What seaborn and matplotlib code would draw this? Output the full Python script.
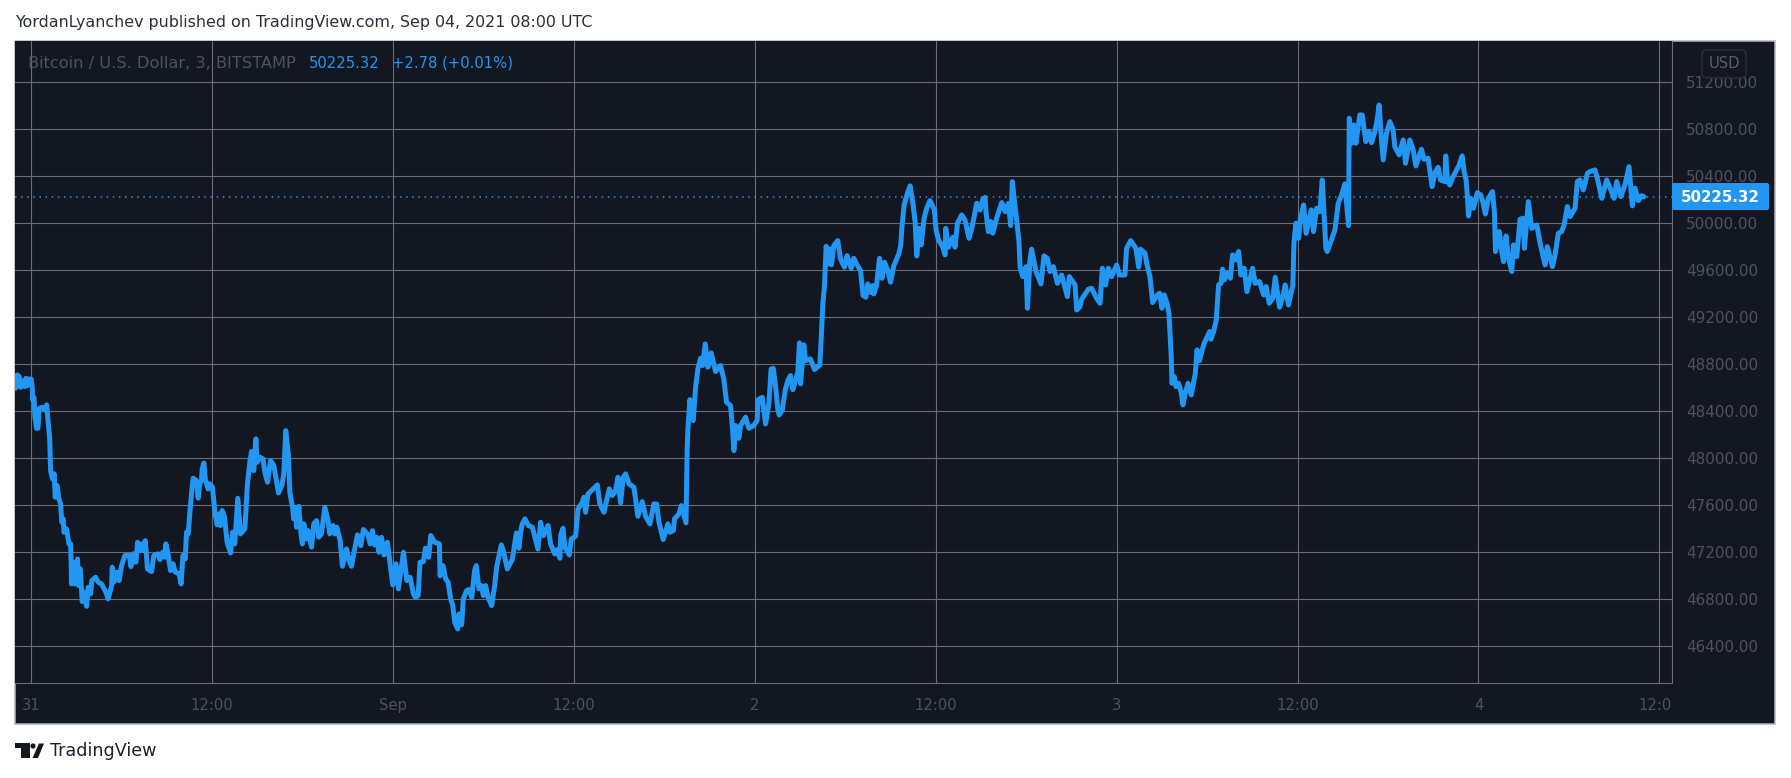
import matplotlib
matplotlib.use("Agg")
import matplotlib.pyplot as plt
import numpy as np
import pandas as pd
import seaborn as sns
from matplotlib.patches import Circle, FancyBboxPatch, Polygon, Rectangle
from matplotlib.transforms import Affine2D, Bbox

# hours since Aug 31 00:00 UTC, and BTC/USD price in stretches
hours_a = [-1.04, -0.93, -0.80, -0.71, -0.57, -0.44, -0.35, -0.27, -0.13, 0.00, 0.07, 0.09, 0.18, 0.24, 0.35, 0.44,
           0.53, 0.75, 0.91, 1.02, 1.15, 1.22]
price_a = [48596, 48709, 48695, 48604, 48660, 48610, 48681, 48616, 48675, 48672, 48596, 48497, 48519, 48355, 48255, 48255,
           48425, 48434, 48411, 48454, 48270, 48170]

hours_b = [1.28, 1.41, 1.52, 1.59, 1.72, 1.81, 1.94, 2.03, 2.12, 2.17, 2.34, 2.50, 2.61, 2.64, 2.67, 2.83, 2.92, 3.07, 3.14, 3.25,
           3.38, 3.49, 3.67, 3.78, 3.93, 4.02, 4.27, 4.44, 4.66, 4.95, 5.10, 5.33, 5.37, 5.48, 5.66, 5.83, 5.99, 6.21, 6.50, 6.61,
           6.76, 6.94, 7.05, 7.16, 7.31, 7.43, 7.56, 7.71, 7.98, 8.13, 8.42, 8.53, 8.71, 8.84, 8.93, 9.08, 9.24, 9.41, 9.55, 9.81,
           9.94, 10.06, 10.21, 10.30, 10.41, 10.52, 10.67, 10.74, 10.96, 11.07, 11.18, 11.29, 11.34, 11.45, 11.54, 11.73, 11.85, 12.02, 12.18, 12.33,
           12.46, 12.55, 12.66, 12.82, 12.99, 13.22, 13.35, 13.50, 13.70, 13.88, 14.17, 14.34, 14.50, 14.61, 14.76, 14.90, 14.98, 15.16, 15.38, 15.49,
           15.67, 15.87, 16.09, 16.40, 16.62, 16.75, 16.88, 17.06, 17.15, 17.33, 17.41, 17.55, 17.59, 17.75, 17.90, 17.99, 18.08, 18.25, 18.36, 18.59,
           18.74, 18.92, 19.07, 19.25, 19.47, 19.69, 19.80, 20.02, 20.13]
price_b = [47895, 47824, 47867, 47668, 47767, 47668, 47611, 47455, 47484, 47370, 47399, 47271, 47271, 47129, 46930, 47115, 46930, 47143, 46916, 47058,
           46780, 46860, 46740, 46902, 46845, 46959, 46987, 46945, 46930, 46860, 46803, 46916, 47072, 46945, 47030, 46959, 47086, 47172, 47172, 47078,
           47186, 47115, 47285, 47214, 47271, 47214, 47299, 47058, 47035, 47172, 47186, 47138, 47200, 47157, 47271, 47177, 47044, 47101, 47030, 47016,
           46930, 47172, 47143, 47370, 47356, 47540, 47753, 47830, 47810, 47660, 47782, 47810, 47909, 47960, 47824, 47739, 47782, 47753, 47540, 47433,
           47526, 47427, 47555, 47498, 47285, 47194, 47370, 47271, 47660, 47356, 47399, 47782, 47966, 48057, 47895, 48165, 47966, 48009, 47994, 47881,
           47796, 47980, 47938, 47705, 47767, 47867, 48235, 48023, 47711, 47583, 47484, 47583, 47413, 47591, 47342, 47271, 47441, 47313, 47384, 47243,
           47441, 47469, 47328, 47356, 47583, 47469, 47356, 47427, 47356]

hours_c = [20.27, 20.49, 20.64, 20.91, 21.08, 21.24, 21.41, 21.64, 21.86, 22.03, 22.34, 22.48, 22.63, 22.78, 22.92, 23.07, 23.23, 23.40, 23.62, 23.80,
           23.98, 24.20, 24.35, 24.69, 24.91, 25.13, 25.35, 25.48, 25.66, 25.79, 26.01, 26.14, 26.36, 26.50, 26.76, 27.07, 27.12, 27.31, 27.49, 27.65,
           27.82, 27.96, 28.09, 28.29, 28.38, 28.55, 28.66, 28.88, 29.04, 29.22, 29.41, 29.52, 29.70, 29.86, 29.99, 30.14, 30.30, 30.54, 30.74, 30.87,
           31.18, 31.31, 31.58, 31.91, 32.18, 32.35, 32.46, 32.57, 32.75, 32.97, 33.24, 33.61, 33.79, 33.97, 34.28, 34.45, 34.72, 34.89, 35.07, 35.12,
           35.27, 35.40, 35.69, 35.82, 36.11, 36.27, 36.55, 36.66, 36.77, 36.93, 37.55, 37.72, 37.99, 38.34, 38.54, 38.76, 38.92, 39.09, 39.27, 39.43,
           39.65, 39.98, 40.24, 40.53, 40.75, 41.04, 41.30, 41.48, 41.64, 41.92, 42.23, 42.37, 42.59, 42.67, 42.96, 43.12, 43.43, 43.51]
price_c = [47413, 47299, 47081, 47228, 47129, 47081, 47200, 47348, 47257, 47393, 47348, 47271, 47384, 47262, 47327, 47200, 47327, 47177, 47285, 47101,
           46922, 47101, 46888, 47200, 46959, 46987, 46845, 46817, 46831, 47115, 47120, 47234, 47157, 47342, 47285, 47271, 46999, 47086, 46973, 46945,
           46803, 46746, 46604, 46547, 46675, 46582, 46803, 46874, 46882, 46817, 47044, 47086, 46888, 46916, 46831, 46916, 46817, 46746, 46916, 47072,
           47262, 47214, 47058, 47138, 47364, 47234, 47370, 47441, 47484, 47427, 47413, 47228, 47455, 47342, 47427, 47271, 47186, 47222, 47149, 47342,
           47404, 47243, 47177, 47313, 47336, 47569, 47625, 47668, 47540, 47696, 47773, 47611, 47540, 47739, 47682, 47725, 47838, 47620, 47838, 47867,
           47782, 47753, 47506, 47631, 47506, 47441, 47611, 47611, 47455, 47308, 47441, 47370, 47384, 47484, 47526, 47597, 47450, 48079]

hours_d = [43.56, 43.69, 43.91, 44.07, 44.22, 44.40, 44.53, 44.71, 44.88, 45.10, 45.39, 45.72, 45.94, 46.12, 46.39, 46.50, 46.61, 46.72, 46.94, 47.05,
           47.38, 47.60, 47.93, 48.15, 48.22, 48.49, 48.71, 48.93, 49.08, 49.22, 49.37, 49.52, 49.61, 49.81, 50.03, 50.19, 50.36, 50.52, 50.85, 50.96,
           51.03, 51.25, 51.36, 51.69, 51.96, 52.31, 52.40, 52.51, 52.62, 52.73, 52.86, 52.95, 53.08, 53.24, 53.50, 53.68, 53.94, 54.12, 54.39, 54.56,
           54.78, 55.01, 55.18, 55.36, 55.49, 55.67, 55.82, 55.89, 56.07, 56.27, 56.44, 56.60, 56.82, 57.00, 57.22, 57.55]
price_d = [48250, 48499, 48321, 48604, 48760, 48851, 48789, 48973, 48775, 48897, 48738, 48789, 48675, 48477, 48448, 48278, 48065, 48278, 48170, 48278,
           48349, 48255, 48278, 48321, 48499, 48519, 48292, 48462, 48760, 48766, 48618, 48420, 48369, 48406, 48590, 48661, 48704, 48584, 48732, 48982,
           48633, 48965, 48831, 48845, 48755, 48794, 49016, 49314, 49470, 49804, 49654, 49782, 49646, 49810, 49853, 49697, 49626, 49725, 49617, 49702,
           49646, 49597, 49385, 49370, 49484, 49413, 49470, 49399, 49470, 49702, 49532, 49668, 49597, 49498, 49640, 49739]

hours_e = [57.68, 57.75, 57.90, 58.12, 58.30, 58.48, 58.63, 58.74, 58.90, 59.03, 59.23, 59.40, 59.62, 59.91, 60.02, 60.18, 60.46, 60.62, 60.66, 60.84,
           61.13, 61.28, 61.44, 61.72, 61.94, 62.21, 62.39, 62.72, 62.94, 63.12, 63.27, 63.34, 63.49, 63.65, 63.78, 64.04, 64.38, 64.60, 64.82, 64.97,
           65.08, 65.26, 65.37, 65.52, 65.59, 65.77, 65.99, 66.08, 66.25, 66.36, 66.65, 66.98, 67.18, 67.40, 67.58, 67.80, 68.07, 68.35, 68.73, 68.86,
           69.24, 69.35, 69.57, 69.68, 70.12, 70.34, 70.67, 70.90, 71.05, 71.27, 71.45, 71.67, 72.00, 72.18, 72.55, 72.66, 72.93, 73.28, 73.46, 73.59,
           73.88, 73.99, 74.21, 74.39, 74.70]
price_e = [49816, 49957, 50156, 50255, 50318, 50170, 50014, 49722, 49957, 49816, 50043, 50128, 50193, 50113, 49943, 49858, 49801, 49731, 49957, 49796,
           49881, 49796, 50000, 50071, 50028, 49872, 49957, 50170, 50113, 50204, 50221, 50085, 49929, 50014, 49915, 50043, 50176, 50099, 50170, 49980,
           50355, 50142, 50028, 49844, 49631, 49546, 49631, 49277, 49688, 49779, 49589, 49484, 49722, 49702, 49589, 49631, 49489, 49560, 49376, 49546,
           49475, 49262, 49291, 49353, 49438, 49447, 49362, 49319, 49617, 49475, 49617, 49546, 49645, 49560, 49560, 49787, 49852, 49787, 49626, 49779,
           49745, 49660, 49546, 49325, 49390]

hours_f = [74.85, 75.00, 75.16, 75.34, 75.47, 75.62, 75.67, 75.82, 75.93, 76.11, 76.27, 76.40, 76.55, 76.73, 76.95, 77.22, 77.33, 77.50, 77.66, 77.81,
           78.17, 78.25, 78.43, 78.61, 78.76, 78.92, 79.03, 79.14, 79.31, 79.54, 79.69, 79.87, 80.09, 80.24, 80.46, 80.64, 81.02, 81.19, 81.48, 81.75,
           81.92, 82.12, 82.36, 82.52, 82.81, 83.03, 83.18, 83.40, 83.69, 83.76, 83.89, 84.07, 84.18, 84.40, 84.57, 84.91, 85.06]
price_f = [49404, 49277, 49390, 49319, 49234, 48865, 48638, 48695, 48610, 48638, 48567, 48454, 48553, 48638, 48539, 48723, 48922, 48831, 48916, 48979,
           49078, 49013, 49078, 49177, 49475, 49489, 49609, 49518, 49574, 49532, 49731, 49688, 49759, 49560, 49617, 49418, 49617, 49489, 49504, 49390,
           49461, 49319, 49362, 49540, 49285, 49376, 49475, 49305, 49475, 49830, 50000, 49872, 50028, 50156, 49915, 50114, 49929]

hours_g = [85.26, 85.48, 85.64, 85.88, 85.97, 86.25, 86.48, 86.70, 86.92, 87.14, 87.38, 87.43, 87.58, 87.73, 87.87, 88.13, 88.29, 88.53, 88.75, 88.91,
           89.13, 89.28, 89.41, 89.52, 89.68, 89.90, 90.12, 90.34, 90.45, 90.74, 91.01, 91.16, 91.45, 91.67, 91.85, 92.22, 92.38, 92.66, 92.93, 93.10,
           93.33, 93.48, 93.77, 93.83, 93.94, 94.10, 94.32, 94.72]
price_g = [50128, 50099, 50369, 49787, 49759, 49858, 49943, 50170, 50241, 50335, 49980, 50894, 50681, 50837, 50681, 50922, 50922, 50695, 50780, 50687,
           50780, 50879, 51007, 50794, 50539, 50766, 50865, 50794, 50652, 50582, 50709, 50511, 50709, 50624, 50488, 50630, 50545, 50553, 50312, 50426,
           50477, 50369, 50355, 50573, 50369, 50326, 50397, 50496]

hours_h = [94.92, 95.05, 95.18, 95.27, 95.34, 95.49, 95.67, 95.93, 96.15, 96.29, 96.46, 96.66, 96.93, 97.06, 97.13, 97.39, 97.55, 97.66, 97.83, 97.97,
           98.21, 98.32, 98.54, 98.76, 98.94, 99.05, 99.31, 99.54, 99.87, 100.09, 100.42, 100.57, 100.91, 101.08, 101.30, 101.52, 101.68, 101.90, 102.08, 102.41,
           102.56, 102.74, 102.96, 103.23, 103.40, 103.73, 103.89, 104.18, 104.51, 104.69, 105.00, 105.17, 105.44, 105.72, 105.99, 106.21, 106.39, 106.61, 106.83, 106.98]
price_h = [50573, 50440, 50369, 50227, 50062, 50213, 50128, 50261, 50241, 50184, 50079, 50213, 50270, 50099, 49759, 49929, 49759, 49674, 49892, 49716,
           49589, 49816, 49716, 50034, 50043, 49787, 50184, 49957, 49986, 49830, 49645, 49801, 49631, 49730, 49915, 49929, 49986, 50142, 50057, 50128,
           50355, 50369, 50284, 50426, 50440, 50454, 50383, 50213, 50369, 50312, 50213, 50355, 50227, 50326, 50482, 50148, 50298, 50193, 50235, 50225]

last_price = 50225.32
price_ticks = [46400, 46800, 47200, 47600, 48000, 48400, 48800, 49200, 49600, 50000, 50400, 50800, 51200]
time_ticks = [0, 12, 24, 36, 48, 60, 72, 84, 96, 108]
time_labels = ["31", "12:00", "Sep", "12:00", "2", "12:00", "3", "12:00", "4", "12:00"]

BG = "#131722"
GRID = "#6c6c76"
FRAME = "#b2b5be"
BLUE = "#2196f3"
MUTED = "#50525b"
W, H = 1791, 778

sns.set_theme(style="dark")
plt.rcParams["font.family"] = ["DejaVu Sans"]

df = pd.DataFrame({
    "hours": np.concatenate([hours_a, hours_b, hours_c, hours_d, hours_e, hours_f, hours_g, hours_h]),
    "price": np.concatenate([price_a, price_b, price_c, price_d, price_e, price_f, price_g, price_h]),
})

fig = plt.figure(figsize=(W / 100, H / 100), dpi=100, facecolor="white")

# screen pixels, y pointing down, for everything that is chrome rather than data
px = Affine2D().scale(1 / W, -1 / H).translate(0, 1) + fig.transFigure

# dark panel behind the chart and both axes
fig.add_artist(Rectangle((15, 41), 1760, 683, transform=px, facecolor=BG, edgecolor=FRAME, linewidth=1.1, zorder=-1))

ax = fig.add_axes([15 / W, 1 - 683 / H, 1657 / W, 642 / H], zorder=1)
ax.set_facecolor(BG)

ax.grid(True, color=GRID, linewidth=0.8)
ax.set_axisbelow(True)
ax.axhline(last_price, color=BLUE, linewidth=1.1, linestyle=(0, (1, 3)), zorder=1.5)

sns.lineplot(data=df, x="hours", y="price", ax=ax, color=BLUE, linewidth=3.6, estimator=None, sort=False,
             solid_joinstyle="round", solid_capstyle="round")

ax.set_xlim(-1.08, 108.84)
ax.set_ylim(46087, 51551.5)
ax.set_xlabel("")
ax.set_ylabel("")
ax.set_xticks(time_ticks)
ax.set_xticklabels(time_labels)
ax.set_yticks(price_ticks)
ax.set_yticklabels([f"{p:.2f}" for p in price_ticks])
ax.yaxis.tick_right()
ax.tick_params(axis="x", length=0, pad=10.5, labelsize=10.6, colors=MUTED)
ax.tick_params(axis="y", length=0, pad=10, labelsize=10.9, colors=MUTED)

for side, spine in ax.spines.items():
    spine.set_visible(side in ("right", "bottom"))
    spine.set_color(GRID)
    spine.set_linewidth(0.8)

# the last time label runs into the price axis and gets cut off there
last_label = ax.get_xticklabels()[-1]
last_label.set_clip_box(Bbox.from_extents(0, 0, 1672, H))
last_label.set_clip_on(True)

# last price tag
fig.add_artist(FancyBboxPatch((1672, 183), 97, 27, boxstyle="round,pad=0,rounding_size=2", transform=px,
                              facecolor=BLUE, edgecolor=BLUE, linewidth=0, zorder=3))
fig.text(1720 / W, 1 - 197 / H, f"{last_price:.2f}", color="white", fontsize=10.8, fontweight="bold",
         ha="center", va="center", zorder=4)

# currency button sits over the top price label
fig.add_artist(FancyBboxPatch((1702, 50), 44, 28, boxstyle="round,pad=0,rounding_size=5", transform=px,
                              facecolor=BG, edgecolor="#2e323d", linewidth=1, alpha=0.85, zorder=3))
fig.text(1724 / W, 1 - 64 / H, "USD", color="#5d5f68", fontsize=10.6, ha="center", va="center", zorder=4)

# header and legend texts
fig.text(15 / W, 1 - 22.5 / H, "YordanLyanchev published on TradingView.com, Sep 04, 2021 08:00 UTC", color="#2a2e39",
         fontsize=11.4, ha="left", va="center")
fig.text(28 / W, 1 - 63.5 / H, "Bitcoin / U.S. Dollar, 3, BITSTAMP", color=MUTED, fontsize=11.7, ha="left", va="center", zorder=4)
fig.text(309 / W, 1 - 63.5 / H, f"{last_price:.2f}", color=BLUE, fontsize=10.6, ha="left", va="center", zorder=4)
fig.text(392 / W, 1 - 63.5 / H, "+2.78 (+0.01%)", color=BLUE, fontsize=10.6, ha="left", va="center", zorder=4)

# TradingView logo
fig.add_artist(Polygon([(15, 743), (29.5, 743), (29.5, 758), (21, 758), (21, 748), (15, 748)], closed=True,
                       facecolor=BG, edgecolor="none", transform=px))
fig.add_artist(Circle((33, 746), 2.6, facecolor=BG, edgecolor="none", transform=px))
fig.add_artist(Polygon([(39, 743.5), (44, 743.5), (38, 758), (32.5, 758)], closed=True,
                       facecolor=BG, edgecolor="none", transform=px))
fig.text(50 / W, 1 - 751 / H, "TradingView", color="#1e222d", fontsize=12.6, ha="left", va="center")

fig.savefig("out.png", dpi=100, facecolor="white")
